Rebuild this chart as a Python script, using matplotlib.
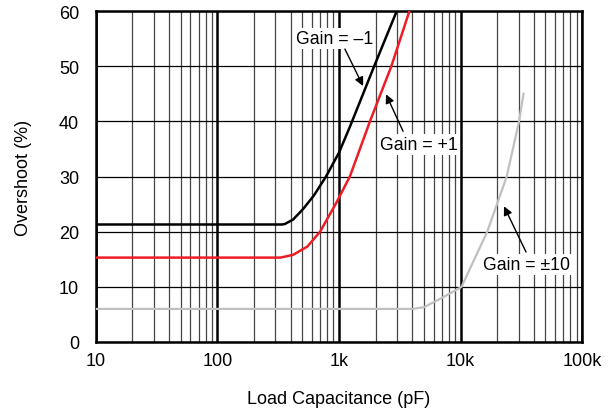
import numpy as np
import matplotlib
matplotlib.use("Agg")
import matplotlib.pyplot as plt
import matplotlib.ticker as ticker

plt.rcParams['font.family'] = ['Liberation Sans', 'DejaVu Sans']

# curves: load capacitance (pF) vs overshoot (%)
cap_inv1 = [10, 340, 360, 420, 507, 620, 783, 1000, 1230, 1950, 2990]
ovs_inv1 = [21.3, 21.3, 21.4, 22.2, 24.1, 26.5, 30.0, 34.3, 39.0, 50.0, 60.0]

cap_p1 = [10, 330, 420, 550, 700, 955, 1230, 1800, 2700, 3800]
ovs_p1 = [15.3, 15.3, 15.8, 17.3, 20.0, 25.3, 30.0, 40.0, 50.0, 60.0]

cap_p10 = [10, 4000, 5000, 6770, 8500, 10200, 13000, 16600, 24000, 30300, 33000]
ovs_p10 = [6.0, 6.0, 6.3, 7.8, 9.0, 10.0, 15.0, 20.0, 30.0, 40.0, 45.0]

x_ticks = [10, 100, 1000, 10000, 100000]
x_labels = ["10", "100", "1k", "10k", "100k"]
y_ticks = [0, 10, 20, 30, 40, 50, 60]

fig = plt.figure(figsize=(6.14, 4.14), dpi=100)
ax = fig.add_axes([0.156, 0.1715, 0.792, 0.7995])

ax.set_xscale('log')
ax.set_xlim(10, 100000)
ax.set_ylim(0, 60)

# grid
ax.xaxis.set_major_locator(ticker.FixedLocator(x_ticks))
ax.xaxis.set_minor_locator(ticker.LogLocator(base=10, subs=np.arange(2, 10)))
ax.xaxis.set_minor_formatter(ticker.NullFormatter())
ax.set_xticklabels(x_labels)
ax.set_yticks(y_ticks)
ax.grid(True, which='major', axis='x', color='black', lw=1.8)
ax.grid(True, which='minor', axis='x', color='#444444', lw=0.9)
ax.grid(True, which='major', axis='y', color='black', lw=0.9)
ax.tick_params(which='both', length=0, labelsize=13, colors='black')
ax.tick_params(axis='x', pad=7)
ax.tick_params(axis='y', pad=12)
for s in ax.spines.values():
    s.set_linewidth(1.8)
ax.set_axisbelow(True)

ax.plot(cap_p10, ovs_p10, color='#c0c0c0', lw=1.6, zorder=3)
ax.plot(cap_inv1, ovs_inv1, color='black', lw=1.8, zorder=3)
ax.plot(cap_p1, ovs_p1, color='#ee1c25', lw=1.8, zorder=3)

ax.set_xlabel("Load Capacitance (pF)", fontsize=13, labelpad=15)
ax.set_ylabel("Overshoot (%)", fontsize=13, labelpad=19)

# annotations
box = dict(facecolor='white', edgecolor='none', pad=1.5)
arrow = dict(arrowstyle='-|>', color='black', lw=1.0, mutation_scale=13,
             shrinkA=0, shrinkB=0)

ax.text(920, 55.0, "Gain = \u20131", fontsize=12.7, ha='center', va='center', bbox=box, zorder=5)
ax.annotate('', xy=(1580, 46.4), xytext=(1120, 53.1), arrowprops=arrow, zorder=5)

ax.text(4520, 35.8, "Gain = +1", fontsize=12.7, ha='center', va='center', bbox=box, zorder=5)
ax.annotate('', xy=(2440, 44.9), xytext=(3370, 38.2), arrowprops=arrow, zorder=5)

ax.text(34600, 14.0, "Gain = \u00b110", fontsize=12.7, ha='center', va='center', bbox=box, zorder=5)
ax.annotate('', xy=(22800, 24.6), xytext=(34600, 16.3), arrowprops=arrow, zorder=5)

fig.savefig("out.png", dpi=100)
